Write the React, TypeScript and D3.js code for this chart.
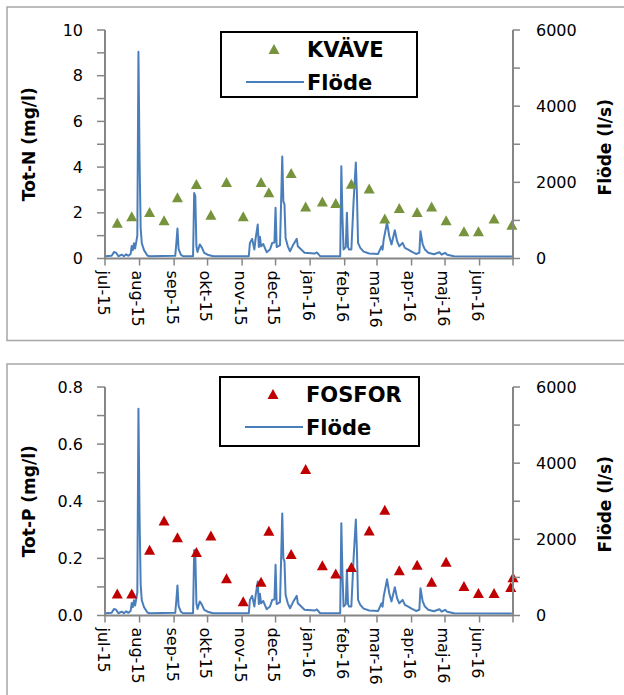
import React from "react";
import * as d3 from "d3";

// flow (l/s), shared by both panels
const flowDates = [
  "2015-07-01", "2015-07-07", "2015-07-09", "2015-07-11", "2015-07-13", "2015-07-16", "2015-07-18",
  "2015-07-20", "2015-07-22", "2015-07-24", "2015-07-25", "2015-07-26", "2015-07-27", "2015-07-28",
  "2015-07-30", "2015-07-31", "2015-08-01", "2015-08-02", "2015-08-03", "2015-08-05", "2015-08-08",
  "2015-08-10", "2015-09-02", "2015-09-03", "2015-09-04", "2015-09-05", "2015-09-07", "2015-09-09",
  "2015-09-18", "2015-09-19", "2015-09-20", "2015-09-21", "2015-09-22", "2015-09-24", "2015-09-26",
  "2015-09-28", "2015-10-01", "2015-10-06", "2015-11-07", "2015-11-08", "2015-11-10", "2015-11-12",
  "2015-11-13", "2015-11-15", "2015-11-16", "2015-11-17", "2015-11-18", "2015-11-20", "2015-11-23",
  "2015-11-26", "2015-11-28", "2015-11-30", "2015-12-01", "2015-12-02", "2015-12-05", "2015-12-06",
  "2015-12-07", "2015-12-08", "2015-12-09", "2015-12-10", "2015-12-12", "2015-12-14", "2015-12-17",
  "2015-12-20", "2015-12-21", "2015-12-24", "2015-12-27", "2016-01-05", "2016-01-07", "2016-01-10",
  "2016-01-28", "2016-01-29", "2016-01-30", "2016-01-31", "2016-02-02", "2016-02-03", "2016-02-04",
  "2016-02-05", "2016-02-07", "2016-02-09", "2016-02-11", "2016-02-12", "2016-02-13", "2016-02-15",
  "2016-02-18", "2016-02-23", "2016-03-02", "2016-03-05", "2016-03-06", "2016-03-07", "2016-03-10",
  "2016-03-12", "2016-03-14", "2016-03-17", "2016-03-19", "2016-03-21", "2016-03-24", "2016-03-26",
  "2016-03-29", "2016-04-01", "2016-04-05", "2016-04-08", "2016-04-09", "2016-04-11", "2016-04-13",
  "2016-04-16", "2016-04-21", "2016-04-26", "2016-04-28", "2016-05-01", "2016-05-03", "2016-05-09",
  "2016-06-30",
];
const flowValues = [
  60, 70, 170, 150, 60, 100, 60,
  110, 70, 120, 330, 220, 400, 260,
  600, 5430, 2600, 800, 400, 220, 80,
  60, 70, 400, 790, 250, 100, 60,
  60, 1720, 1640, 320, 170, 370, 280,
  150, 100, 60, 60, 410, 515, 235,
  500, 890, 300, 570, 320, 380, 165,
  235, 410, 420, 1330, 300, 350, 1500,
  2680, 1500, 1420, 540, 320, 190, 370,
  515, 320, 235, 150, 130, 160, 60,
  60, 2420, 1100, 235, 300, 1200, 300,
  235, 235, 1500, 2520, 1700, 410, 280,
  180, 130, 120, 320, 230, 500, 950,
  585, 370, 740, 455, 320, 410, 280,
  235, 180, 120, 150, 715, 370, 235,
  150, 110, 165, 100, 150, 100, 60,
  50,
];

// sample dates + concentrations
const nDates = [
  "2015-07-12", "2015-07-25", "2015-08-10", "2015-08-23", "2015-09-04", "2015-09-21", "2015-10-04",
  "2015-10-18", "2015-11-02", "2015-11-18", "2015-11-25", "2015-12-15", "2015-12-28", "2016-01-12",
  "2016-01-24", "2016-02-07", "2016-02-23", "2016-03-08", "2016-03-21", "2016-04-06", "2016-04-19",
  "2016-05-02", "2016-05-18", "2016-05-31", "2016-06-14", "2016-06-30",
];
const totN = [
  1.56, 1.85, 2.04, 1.67, 2.68, 3.26, 1.92, 3.35, 1.85, 3.35, 2.9, 3.74, 2.28, 2.5, 2.43, 3.27,
  3.06, 1.75, 2.21, 2.04, 2.28, 1.67, 1.19, 1.19, 1.75, 1.48,
];
const pDates = [...nDates.slice(0, 25), "2016-06-29", "2016-07-01"];
const totP = [
  0.077, 0.077, 0.23, 0.333, 0.274, 0.222, 0.28, 0.13, 0.05, 0.118, 0.297, 0.215, 0.513, 0.176,
  0.147, 0.17, 0.298, 0.37, 0.158, 0.178, 0.118, 0.188, 0.103, 0.079, 0.079, 0.1, 0.134,
];

const monthNames = ["jan", "feb", "mar", "apr", "maj", "jun", "jul", "aug", "sep", "okt", "nov", "dec"];

const parse = d3.timeParse("%Y-%m-%d");
const FONT = "'DejaVu Sans', sans-serif";
const AXIS = "#868686";
const LINE = "#4a7ebb";

const x = d3
  .scaleTime()
  .domain([parse("2015-07-01")!, parse("2016-07-01")!])
  .range([105, 513]);
const monthTicks = d3.timeMonth.range(parse("2015-07-01")!, parse("2016-07-02")!);

const tri = (cx: number, cy: number, w = 11, h = 10) =>
  `M${cx},${cy - h / 2}L${cx + w / 2},${cy + h / 2}L${cx - w / 2},${cy + h / 2}Z`;

type PanelProps = {
  frameTop: number;
  top: number;
  bottom: number;
  yMax: number;
  yStep: number;
  fmt: (v: number) => string;
  yTitle: string;
  dates: string[];
  values: number[];
  color: string;
  legendName: string;
  legendBox: [number, number, number, number];
};

function Panel(p: PanelProps) {
  const y = d3.scaleLinear().domain([0, p.yMax]).range([p.bottom, p.top]);
  const y2 = d3.scaleLinear().domain([0, 6000]).range([p.bottom, p.top]);
  const flowLine = d3
    .line<number>()
    .x((_, i) => x(parse(flowDates[i])!))
    .y((v) => y2(v));
  const majors = d3.range(0, p.yMax + p.yStep / 4, p.yStep);
  const minors = d3.range(0, p.yMax + p.yStep / 4, p.yStep / 2);
  const [bx, by, bw, bh] = p.legendBox;
  const mid = (p.top + p.bottom) / 2;

  return (
    <g fontFamily={FONT}>
      <rect x={7} y={p.frameTop} width={640} height={333.5} fill="#fff" stroke="#a6a6a6" strokeWidth={1.5} />

      {/* flow */}
      <path d={flowLine(flowValues) ?? ""} fill="none" stroke={LINE} strokeWidth={2} strokeLinejoin="round" />

      {/* samples */}
      {p.values.map((v, i) => (
        <path key={i} d={tri(x(parse(p.dates[i])!), y(v))} fill={p.color} />
      ))}

      {/* left axis */}
      <line x1={105} x2={105} y1={p.top} y2={p.bottom} stroke={AXIS} strokeWidth={2} />
      {minors.map((t) => (
        <line key={t} x1={97} x2={105} y1={y(t)} y2={y(t)} stroke={AXIS} strokeWidth={1.5} />
      ))}
      {majors.map((t) => (
        <text key={t} x={83} y={y(t)} textAnchor="end" dominantBaseline="central" fontSize={16} fill="#000">
          {p.fmt(t)}
        </text>
      ))}
      <text
        transform={`translate(29,${mid}) rotate(-90)`}
        textAnchor="middle"
        dominantBaseline="central"
        fontSize={17}
        fontWeight="bold"
      >
        {p.yTitle}
      </text>

      {/* right axis */}
      <line x1={513} x2={513} y1={p.top} y2={p.bottom} stroke={AXIS} strokeWidth={2} />
      {d3.range(0, 6001, 1000).map((t) => (
        <line key={t} x1={513} x2={520} y1={y2(t)} y2={y2(t)} stroke={AXIS} strokeWidth={1.5} />
      ))}
      {d3.range(0, 6001, 2000).map((t) => (
        <text key={t} x={536} y={y2(t)} dominantBaseline="central" fontSize={16} fill="#000">
          {t}
        </text>
      ))}
      <text
        transform={`translate(605,${mid + 3}) rotate(-90)`}
        textAnchor="middle"
        dominantBaseline="central"
        fontSize={17}
        fontWeight="bold"
      >
        Flöde (l/s)
      </text>

      {/* x axis */}
      <line x1={105} x2={513} y1={p.bottom} y2={p.bottom} stroke={AXIS} strokeWidth={2} />
      {monthTicks.map((d, i) => (
        <g key={i}>
          <line x1={x(d)} x2={x(d)} y1={p.bottom} y2={p.bottom + 7} stroke={AXIS} strokeWidth={1.5} />
          {i < 12 && (
            <text
              transform={`translate(${x(d) - 2},${p.bottom + 12}) rotate(90)`}
              dominantBaseline="central"
              fontSize={16}
              fill="#000"
            >
              {`${monthNames[d.getMonth()]}-${String(d.getFullYear()).slice(2)}`}
            </text>
          )}
        </g>
      ))}

      {/* legend */}
      <rect x={bx} y={by} width={bw} height={bh} fill="#fff" stroke="#000" strokeWidth={2} />
      <path d={tri(bx + 53, by + 17)} fill={p.color} />
      <text x={bx + 86} y={by + 25} fontSize={21} fontWeight="bold">
        {p.legendName}
      </text>
      <line x1={bx + 25} x2={bx + 83} y1={by + 50} y2={by + 50} stroke={LINE} strokeWidth={2} />
      <text x={bx + 86} y={by + 58} fontSize={21} fontWeight="bold">
        Flöde
      </text>
    </g>
  );
}

export default function App() {
  return (
    <svg
      width={624}
      height={695}
      style={{ position: "absolute", left: 0, top: 0, background: "#fff" }}
    >
      <Panel
        frameTop={7}
        top={30}
        bottom={258.5}
        yMax={10}
        yStep={2}
        fmt={(v) => String(v)}
        yTitle="Tot-N (mg/l)"
        dates={nDates}
        values={totN}
        color="#77933c"
        legendName="KVÄVE"
        legendBox={[221, 32, 196, 65]}
      />
      <Panel
        frameTop={364}
        top={387}
        bottom={615.5}
        yMax={0.8}
        yStep={0.2}
        fmt={(v) => v.toFixed(1)}
        yTitle="Tot-P (mg/l)"
        dates={pDates}
        values={totP}
        color="#c00000"
        legendName="FOSFOR"
        legendBox={[220, 377, 199, 69]}
      />
    </svg>
  );
}
